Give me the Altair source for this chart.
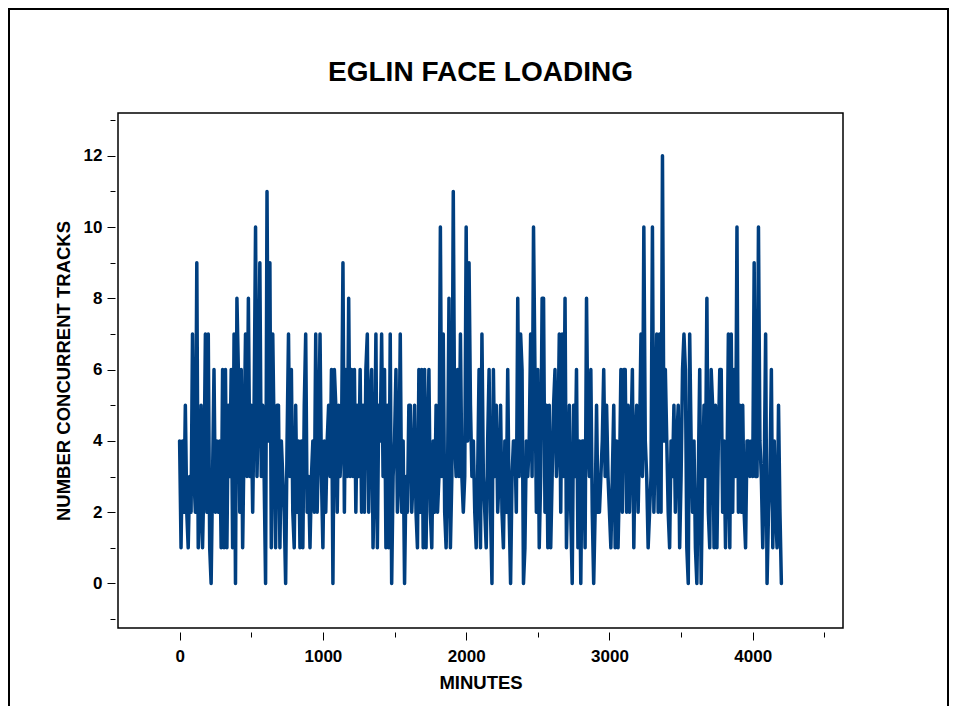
import altair as alt
import pandas as pd

seg1 = [4, 1, 4, 2, 5, 2, 1, 3, 2, 7, 3, 2, 9, 1, 2, 5, 1, 3, 7, 2,
        7, 1, 0, 3, 6, 2, 4, 2, 4, 1, 6, 1, 6, 1, 5, 3, 6, 1, 7, 0,
        8, 6, 2, 6, 1, 4, 7, 3, 8, 3, 5, 2, 5, 10, 3, 5, 9, 3, 5, 3,
        0, 11, 4, 9, 1, 7, 4, 1, 5]
seg2 = [5, 1, 4, 3, 2, 0, 4, 7, 3, 6, 2, 1, 5, 2, 4, 1, 4, 1, 5, 7,
        2, 3, 1, 3, 4, 2, 7, 2, 4, 7, 3, 1, 4, 2, 4, 5, 3, 6, 0, 6,
        5, 2, 5, 3, 4, 9, 2, 6, 3, 8, 3, 6, 3, 6, 2, 5, 3, 6, 2, 5,
        2, 6, 7, 2, 5, 6, 1, 3, 7, 1, 5]
seg3 = [4, 7, 3, 6, 1, 5, 1, 7, 0, 3, 4, 6, 2, 3, 7, 2, 4, 0, 3, 2,
        5, 5, 2, 3, 5, 2, 1, 6, 2, 6, 1, 6, 1, 4, 6, 2, 1, 4, 2, 5,
        2, 3, 10, 3, 7, 2, 1, 3, 8, 1, 3, 11, 4, 3, 6, 3, 7, 3, 2, 3,
        10, 4, 9, 5, 3, 4, 2, 1, 3, 6, 1]
seg4 = [7, 3, 2, 1, 4, 6, 2, 0, 6, 3, 5, 2, 3, 5, 2, 1, 4, 2, 6, 2,
        0, 3, 4, 4, 2, 8, 3, 7, 6, 0, 1, 4, 3, 4, 7, 3, 10, 6, 2, 6,
        1, 3, 8, 8, 2, 5, 1, 5, 1, 3, 5, 6, 3, 4, 7, 2, 7, 3, 8, 1,
        3, 5, 2, 0, 5, 3, 6, 1, 4, 0, 4]
seg5 = [4, 1, 8, 4, 3, 6, 2, 0, 2, 5, 2, 2, 3, 4, 6, 3, 5, 3, 2, 1,
        3, 5, 1, 4, 1, 3, 6, 2, 6, 6, 2, 5, 2, 4, 6, 1, 4, 5, 2, 4,
        7, 3, 10, 4, 3, 1, 2, 3, 10, 2, 4, 7, 2, 7, 2, 12, 4, 6, 4, 2,
        1, 4, 3, 5, 2, 4, 5, 1, 3, 6, 7]
seg6 = [6, 1, 0, 7, 4, 2, 4, 1, 0, 3, 6, 0, 3, 5, 3, 8, 2, 1, 6, 5,
        1, 5, 1, 4, 6, 6, 2, 4, 1, 3, 7, 1, 7, 2, 6, 3, 10, 2, 5, 2,
        5, 2, 1, 4, 4, 3, 4, 3, 9, 3, 3, 10, 4, 3, 1, 3, 7, 0, 2, 3,
        6, 1, 4, 2, 1, 5, 2, 0]

tracks = seg1 + seg2 + seg3 + seg4 + seg5 + seg6
minutes = [10 * i for i in range(len(tracks))]

x_ticks = [0, 500, 1000, 1500, 2000, 2500, 3000, 3500, 4000, 4500]
y_ticks = list(range(-1, 14))
title_text = ["EGLIN FACE LOADING"]

df = pd.DataFrame({"minutes": minutes, "tracks": tracks})

FONT = "Liberation Sans"
BLUE = "#003f80"
PLOT_W, PLOT_H = 725, 515

x_axis = alt.Axis(
    title="MINUTES",
    values=x_ticks,
    format="d",
    labelExpr="datum.value % 1000 === 0 ? datum.label : ''",
    tickSize={"condition": {"test": "datum.value % 1000 === 0", "value": 8}, "value": 5},
    tickColor="black",
    tickWidth=1,
    domain=False,
    grid=False,
    offset=4,
    labelFont=FONT, labelFontSize=17, labelFontWeight="bold", labelColor="black",
    labelPadding=8,
    titleFont=FONT, titleFontSize=18.5, titleFontWeight="bold", titleColor="black",
    titlePadding=9,
)
y_axis = alt.Axis(
    title="NUMBER CONCURRENT TRACKS",
    values=y_ticks,
    format="d",
    labelExpr="datum.value % 2 === 0 ? datum.label : ''",
    tickSize={"condition": {"test": "datum.value % 2 === 0", "value": 8}, "value": 5},
    tickColor="black",
    tickWidth=1,
    domain=False,
    grid=False,
    offset=3,
    labelFont=FONT, labelFontSize=17, labelFontWeight="bold", labelColor="black",
    labelPadding=5,
    titleFont=FONT, titleFontSize=18.5, titleFontWeight="bold", titleColor="black",
    titlePadding=10,
)

line = alt.Chart(df).mark_line(
    color=BLUE, strokeWidth=3.5, strokeCap="round", strokeJoin="round"
).encode(
    x=alt.X("minutes:Q", scale=alt.Scale(domain=[-430, 4630], nice=False, zero=False), axis=x_axis),
    y=alt.Y("tracks:Q", scale=alt.Scale(domain=[-1.25, 13.2], nice=False, zero=False), axis=y_axis),
)

title = alt.Chart(pd.DataFrame({"t": title_text})).mark_text(
    font=FONT, fontSize=28, fontWeight="bold", color="black",
    align="center", baseline="alphabetic",
).encode(
    text="t:N", x=alt.value(PLOT_W / 2), y=alt.value(-32)
)

border = alt.Chart(pd.DataFrame({"k": [0]})).mark_rect(
    filled=False, stroke="black", strokeWidth=2
).encode(
    x=alt.value(-109), x2=alt.value(830), y=alt.value(-104), y2=alt.value(640)
)

chart = alt.layer(line, title, border).properties(
    width=PLOT_W,
    height=PLOT_H,
    autosize=alt.AutoSizeParams(type="none"),
    padding={"left": 110, "top": 105, "right": 106, "bottom": 78},
).configure(background="white").configure_view(stroke="black", strokeWidth=1.5)

chart.save("out.html", embed_options={"renderer": "svg", "actions": False})
